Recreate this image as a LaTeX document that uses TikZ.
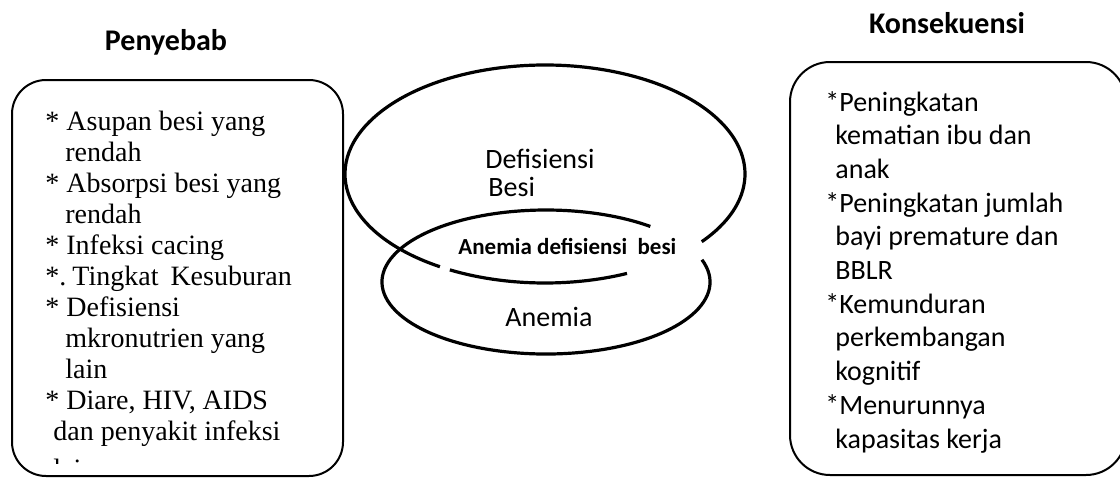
\documentclass[tikz,border=0pt]{standalone}
\usepackage{fontspec}
\setmainfont{Liberation Serif}
\newfontfamily\calibri{Carlito}
\usepackage{tikz}

\begin{document}
\begin{tikzpicture}[x=0.5pt,y=-0.5pt,
  kotak/.style={line width=1pt},
  himpunan/.style={line width=1.6pt},
  judul/.style={anchor=base, inner sep=0pt, font=\calibri\bfseries\fontsize{15}{18}\selectfont},
  isikiri/.style={anchor=base west, align=left, inner sep=0pt, font=\fontsize{14}{15.5}\selectfont},
  isikanan/.style={anchor=base west, align=left, inner sep=0pt, font=\calibri\fontsize{14}{16.85}\selectfont},
  teks/.style={anchor=base west, align=left, inner sep=0pt, font=\calibri\fontsize{14}{14}\selectfont}]

% Batas gambar
\clip (0,0) rectangle (1120,477);
\fill[white] (0,0) rectangle (1120,477);

% Kotak penyebab dan konsekuensi
\draw[kotak, rounded corners=17pt] (12,80) rectangle (343,476);
\draw[kotak, rounded corners=20pt] (790,62) rectangle (1126,475);

% Judul
\node[judul] (penyebab) at (166,50) {Penyebab};
\node[judul] (konsekuensi) at (947,33) {Konsekuensi};

% Himpunan defisiensi besi (atas)
\draw[himpunan] (545,174) ++(65.8:200 and 109)
  arc[start angle=65.8, end angle=118.4, x radius=200, y radius=109];
\draw[himpunan] (545,174) ++(121.7:200 and 109)
  arc[start angle=121.7, end angle=398.4, x radius=200, y radius=109];

% Himpunan anemia (bawah)
\draw[himpunan] (546,282) ++(-18:164 and 72)
  arc[start angle=-18, end angle=309.5, x radius=164, y radius=72];

% Label himpunan (titik acuan = baris terakhir)
\node[teks] (defisiensi) at (485,196) {Defisiensi\\\hspace*{1.5pt}Besi};
\node[teks, font=\calibri\bfseries\fontsize{11.5}{14}\selectfont] (irisan) at (458,254) {Anemia defisiensi\ \ besi};
\node[teks] (anemia) at (505,326) {Anemia};

% Isi penyebab
\node[isikiri] (daftarpenyebab) at (45,440) {%
* Asupan besi yang\\
\hspace*{10pt}rendah\\
* Absorpsi besi yang\\
\hspace*{10pt}rendah\\
* Infeksi cacing\\
*.\hspace{3pt}Tingkat\hspace{6pt}Kesuburan\\
* Defisiensi\\
\hspace*{10pt}mkronutrien yang\\
\hspace*{10pt}lain\\
* Diare, HIV, AIDS\\
\hspace*{4pt}dan penyakit infeksi};

% Baris terakhir yang terpotong
\begin{scope}
\clip (40,440) rectangle (120,463);
\node[isikiri] (lain) at (53,478) {lain};
\end{scope}

% Isi konsekuensi
\node[isikanan] (daftarkonsekuensi) at (825,448) {%
*Peningkatan\\
\hspace*{5pt}kematian ibu dan\\
\hspace*{5pt}anak\\
*Peningkatan jumlah\\
\hspace*{5pt}bayi premature dan\\
\hspace*{5pt}BBLR\\
*Kemunduran\\
\hspace*{5pt}perkembangan\\
\hspace*{5pt}kognitif\\
*Menurunnya\\
\hspace*{5pt}kapasitas kerja};

\end{tikzpicture}
\end{document}
